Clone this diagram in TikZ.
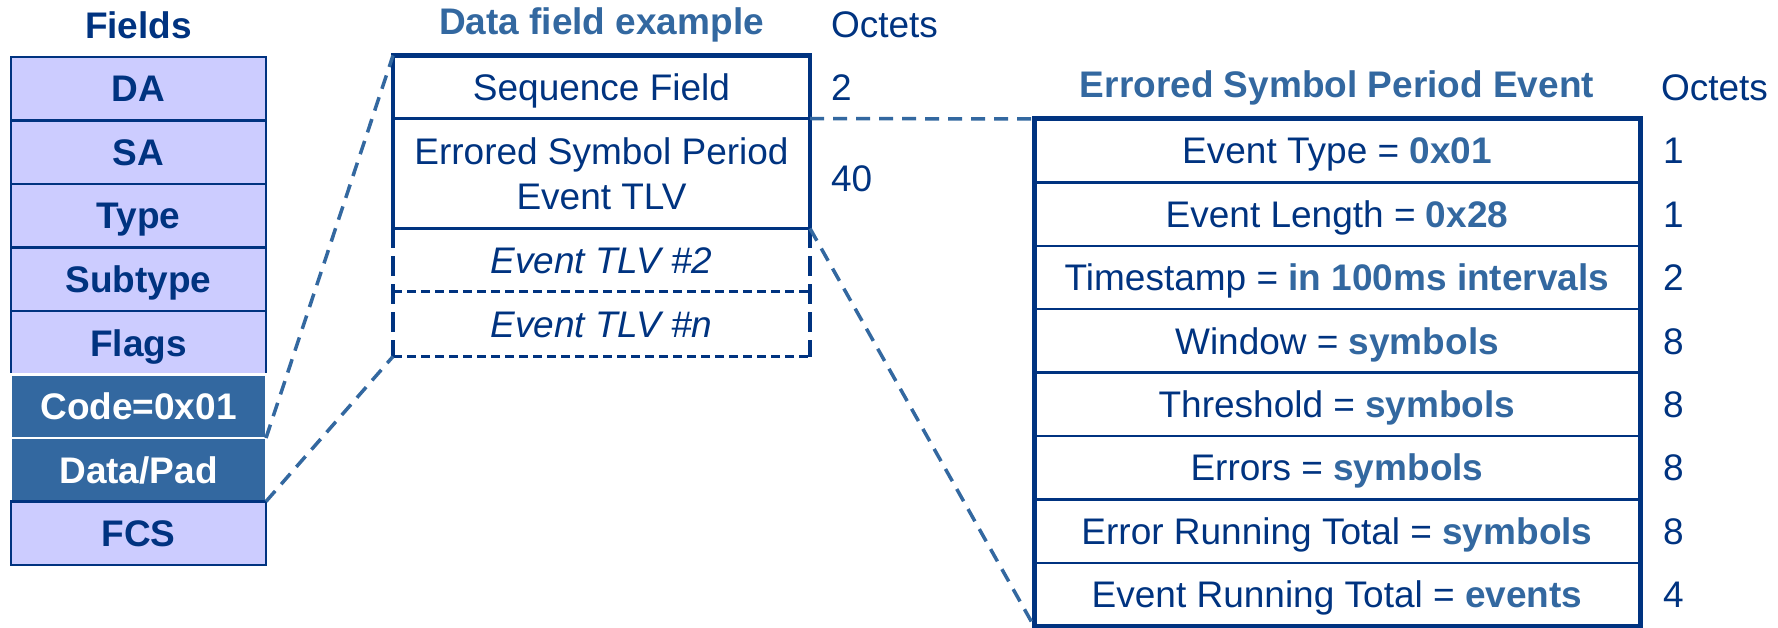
\documentclass[tikz,border=0pt]{standalone}
\usepackage{fontspec}
\setmainfont{Liberation Sans}
\definecolor{navy}{RGB}{0,51,128}
\definecolor{steel}{RGB}{51,104,160}
\definecolor{lav}{RGB}{204,204,255}
\newcommand{\hv}[1]{\textcolor{steel}{\bfseries #1}}
\begin{document}
\begin{tikzpicture}[x=1pt,y=-1pt,
  every node/.style={font=\fontsize{37}{42}\selectfont, text=navy, inner sep=0pt, outer sep=0pt},
  capc/.style={text height=26.5pt, text depth=0pt},
  fld/.style={rectangle, capc, draw=navy, line width=2.5pt, fill=lav, minimum width=255pt, minimum height=63.5pt, font=\fontsize{37}{42}\selectfont\bfseries},
  fldhi/.style={fld, fill=steel, draw=white, text=white},
  drow/.style={rectangle, minimum width=417pt, align=center},
  erow/.style={rectangle, capc, draw=navy, line width=2.5pt, minimum width=606pt, minimum height=63.4pt},
  hdr/.style={font=\fontsize{37}{42}\selectfont\bfseries},
  oct/.style={anchor=west},
  zoomline/.style={draw=steel, line width=3.5pt, dash pattern=on 14pt off 9pt},
  thickdash/.style={draw=navy, line width=4.5pt, dash pattern=on 20pt off 8pt},
  thindash/.style={draw=navy, line width=2.5pt, dash pattern=on 9pt off 5pt}
]
\useasboundingbox (0,0) rectangle (1778,628);

% Fields column
\node[hdr] (fh) at (138.5,25) {Fields};
\node[fld] (f1) at (138.5,88.75) {DA};
\node[fld] (f2) at (138.5,152.25) {SA};
\node[fld] (f3) at (138.5,215.75) {Type};
\node[fld] (f4) at (138.5,279.25) {Subtype};
\node[fld] (f5) at (138.5,342.75) {Flags};
\node[fldhi] (f6) at (138.5,406.25) {Code=0x01};
\node[fldhi] (f7) at (138.5,469.75) {Data/Pad};
\node[fld] (f8) at (138.5,533.25) {FCS};

% Data field example
\node[hdr, text=steel] (dh) at (601.5,25) {Data field example};
\node[oct] (o1) at (831,25) {Octets};
\node[drow, capc, minimum height=63pt] (d1) at (601.5,87) {Sequence Field};
\node[drow, minimum height=110pt, font=\fontsize{37}{45}\selectfont] (d2) at (601.5,173.5) {Errored Symbol Period\\Event TLV};
\node[drow, capc, minimum height=63pt, font=\fontsize{37}{42}\selectfont\itshape] (d3) at (601.5,260) {Event TLV \#2};
\node[drow, capc, minimum height=65pt, font=\fontsize{37}{42}\selectfont\itshape] (d4) at (601.5,324) {Event TLV \#n};
\node[oct, capc] (o2) at (831,87) {2};
\node[oct, capc] (o40) at (831,178) {40};

\draw[navy, line width=2.5pt] (d1.south west) -- (d1.south east);
\draw[navy, line width=2.5pt] (d2.south west) -- (d2.south east);
\draw[thindash] (d3.south west) -- (d3.south east);
\draw[thindash] (d4.south west) -- (d4.south east);
\draw[thickdash] (d3.north west) -- (d4.south west);
\draw[thickdash] (d3.north east) -- (d4.south east);
\draw[navy, line width=4.5pt, line join=miter] (d2.south west) -- (d1.north west) -- (d1.north east) -- (d2.south east);

% Errored Symbol Period Event
\node[hdr, text=steel] (eh) at (1337,88) {Errored Symbol Period Event};
\node[oct] (o3) at (1661,88) {Octets};
\node[erow] (e1) at (1337,150.7) {Event Type = \hv{0x01}};
\node[erow] (e2) at (1337,214.1) {Event Length = \hv{0x28}};
\node[erow] (e3) at (1337,277.5) {Timestamp = \hv{in 100ms intervals}};
\node[erow] (e4) at (1337,340.9) {Window = \hv{symbols}};
\node[erow] (e5) at (1337,404.3) {Threshold = \hv{symbols}};
\node[erow] (e6) at (1337,467.7) {Errors = \hv{symbols}};
\node[erow] (e7) at (1337,531.1) {Error Running Total = \hv{symbols}};
\node[erow] (e8) at (1337,594.5) {Event Running Total = \hv{events}};
\draw[navy, line width=5pt, line join=miter] (e8.south west) -- (e1.north west) -- (e1.north east) -- (e8.south east) -- cycle;
\foreach \r/\v in {1/1,2/1,3/2,4/8,5/8,6/8,7/8,8/4}
  \node[oct, capc] (n\r) at (1663,{119+31.7+63.4*(\r-1)}) {\v};

% zoom connectors
\draw[zoomline] (f6.south east) -- (d1.north west);
\draw[zoomline] (f7.south east) -- (d4.south west);
\draw[zoomline] (d1.south east) -- (e1.north west);
\draw[zoomline] (d2.south east) -- (e8.south west);
\end{tikzpicture}
\end{document}
